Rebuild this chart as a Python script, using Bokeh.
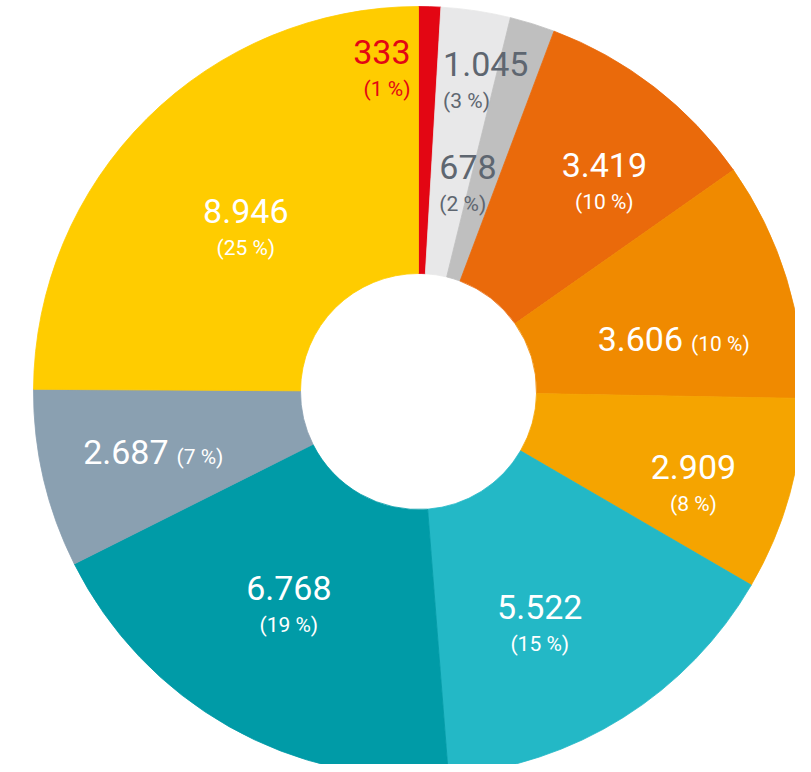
import math
from bokeh.plotting import figure
from bokeh.models import ColumnDataSource, Range1d
from bokeh.core.properties import value
from bokeh.embed import file_html
from bokeh.resources import INLINE

# ---- data (clockwise from 12 o'clock) ----
values = [333, 1045, 678, 3419, 3606, 2909, 5522, 6768, 2687, 8946]
value_labels = ["333", "1.045", "678", "3.419", "3.606", "2.909", "5.522", "6.768", "2.687", "8.946"]
pct_labels = ["(1 %)", "(3 %)", "(2 %)", "(10 %)", "(10 %)", "(8 %)", "(15 %)", "(19 %)", "(7 %)", "(25 %)"]

# ---- styles ----
colors = ["#E30613", "#E8E8E9", "#BFBFBF", "#EA6A0B", "#F08A00", "#F5A400",
          "#23B8C6", "#009BA7", "#8AA0B1", "#FFCC00"]
text_colors = ["#E30613", "#5E6670", "#5E6670", "white", "white", "white",
               "white", "white", "white", "white"]
# label placement: (radius, angle shift in degrees from wedge middle, alignment)
label_layout = [(320, -3.1, "right"), (308, -4.0, "left"), (206, -11.4, "left"),
                (278, 4.2, "center"), (273, 6.7, "inline"), (291, 3.5, "center"),
                (265, 4.9, "center"), (252, 1.5, "center"), (254, -1.3, "inline"),
                (236, -2.2, "center")]

W, H = 795, 764
CX, CY = 418, -391
R_OUT, R_IN = 385, 118

p = figure(width=W, height=H, output_backend="svg", toolbar_location=None,
           x_range=Range1d(0, W), y_range=Range1d(-H, 0),
           min_border=0, outline_line_color=None)
p.axis.visible = False
p.grid.visible = False
p.background_fill_color = "white"
p.border_fill_color = "white"

total = sum(values)
starts, ends, mids = [], [], []
cum = 0.0
for v in values:
    a0 = cum / total
    cum += v
    a1 = cum / total
    # bokeh angles: counter-clockwise from +x; we go clockwise from top
    starts.append(math.pi / 2 - a1 * 2 * math.pi)
    ends.append(math.pi / 2 - a0 * 2 * math.pi)
    mids.append((a0 + a1) / 2 * 360.0)

src = ColumnDataSource(dict(start=starts, end=ends, color=colors,
                            x=[CX] * len(values), y=[CY] * len(values)))
p.annular_wedge(x="x", y="y", inner_radius=R_IN, outer_radius=R_OUT,
                start_angle="start", end_angle="end", fill_color="color",
                line_color="color", line_width=0.8, source=src)

font = value("Roboto")
num_rows = dict(x=[], y=[], t=[], c=[], a=[])
pct_rows = dict(x=[], y=[], t=[], c=[], a=[])
GAP = 17
for i, (r, dth, align) in enumerate(label_layout):
    th = math.radians(mids[i] + dth)
    ax = CX + r * math.sin(th)
    ay = CY + r * math.cos(th)
    if align == "inline":
        num_rows["x"].append(ax - 4); num_rows["y"].append(ay + 3)
        num_rows["a"].append("right")
        pct_rows["x"].append(ax + 4); pct_rows["y"].append(ay - 2)
        pct_rows["a"].append("left")
    else:
        num_rows["x"].append(ax); num_rows["y"].append(ay + GAP + 3)
        num_rows["a"].append(align)
        pct_rows["x"].append(ax); pct_rows["y"].append(ay - GAP)
        pct_rows["a"].append(align)
    num_rows["t"].append(value_labels[i]); num_rows["c"].append(text_colors[i])
    pct_rows["t"].append(pct_labels[i]); pct_rows["c"].append(text_colors[i])

p.text(x="x", y="y", text="t", text_color="c", text_align="a",
       text_baseline="middle", text_font=font, text_font_size=value("34px"),
       source=ColumnDataSource(num_rows))
p.text(x="x", y="y", text="t", text_color="c", text_align="a",
       text_baseline="middle", text_font=font, text_font_size=value("21px"),
       source=ColumnDataSource(pct_rows))

open("out.html", "w").write(file_html(p, INLINE))
